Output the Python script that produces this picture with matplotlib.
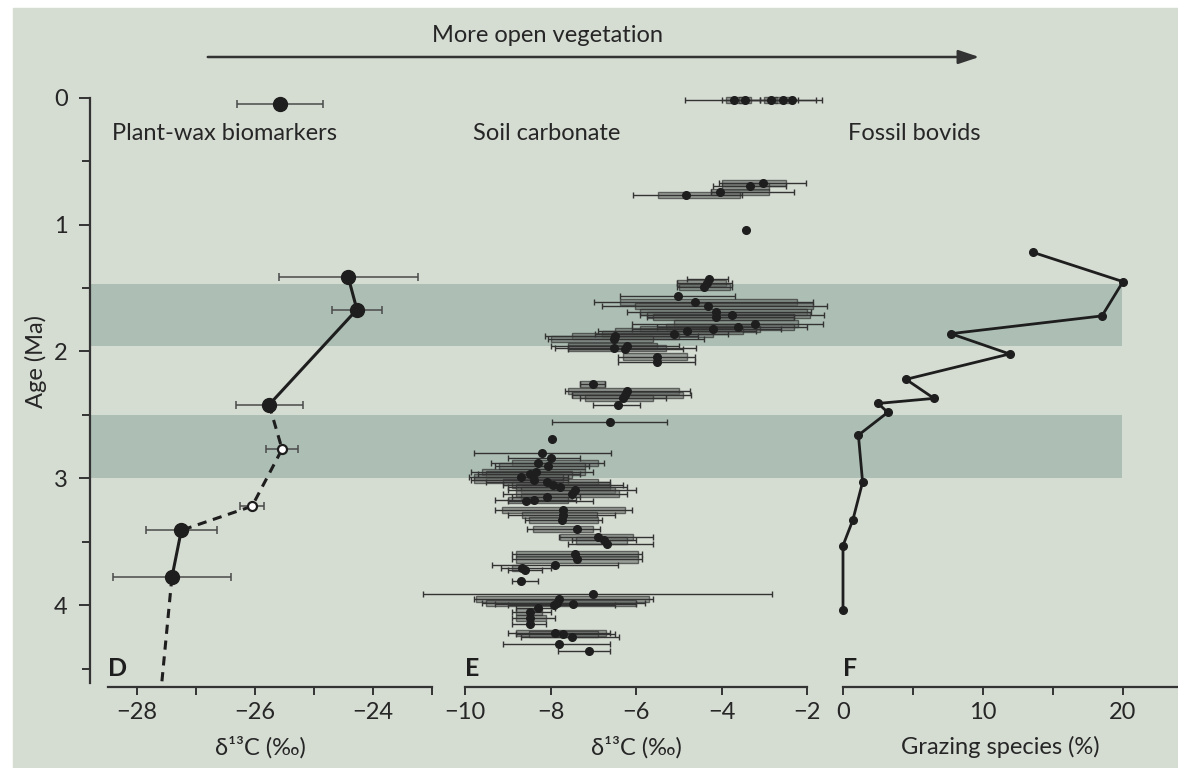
import numpy as np
import matplotlib
matplotlib.use("Agg")
import matplotlib.pyplot as plt
from matplotlib.patches import Rectangle, FancyArrowPatch
from matplotlib.ticker import FixedLocator, NullFormatter

plt.rcParams['font.family'] = ['Lato', 'DejaVu Sans']

# ---------------- data ----------------
# Panel D: plant-wax biomarkers
wax_age = [0.05, 1.41, 1.67, 2.42, 2.77, 3.22, 3.41, 3.78]
wax_d13c = [-25.58, -24.42, -24.27, -25.76, -25.54, -26.05, -27.25, -27.41]
wax_err = [0.73, 1.18, 0.42, 0.57, 0.27, 0.21, 0.60, 1.00]
wax_open = [False, False, False, False, True, True, False, False]
wax_solid_segments = [[1, 2, 3], [6, 7]]
wax_dashed_segments = [[3, 4, 5, 6]]
wax_tail_age = [3.78, 4.70]
wax_tail_d13c = [-27.41, -27.60]

# Panel E: soil carbonate (age, mean, whisker lo/hi, box lo/hi)
soil_age = [0.02, 0.02, 0.02, 0.02, 0.02,
            0.67, 0.70, 0.74, 0.77, 1.04,
            1.43, 1.46, 1.49, 1.56, 1.61, 1.64, 1.69, 1.71, 1.73, 1.78, 1.81, 1.82,
            1.84, 1.86, 1.88, 1.90, 1.96, 1.97, 1.98, 2.04, 2.08,
            2.26, 2.31, 2.34, 2.37, 2.42, 2.56, 2.69,
            2.80, 2.84, 2.88, 2.90, 2.95, 2.97, 2.99, 3.01, 3.03, 3.05, 3.07, 3.09,
            3.12, 3.15, 3.17, 3.18, 3.25, 3.29, 3.33, 3.40, 3.46, 3.49, 3.52,
            3.60, 3.64, 3.68, 3.71, 3.72, 3.81, 3.91, 3.95, 3.98, 3.99, 4.00,
            4.02, 4.05, 4.10, 4.15, 4.22, 4.23, 4.25, 4.31, 4.36]
soil_d13c = [-3.70, -3.45, -2.85, -2.55, -2.35,
             -3.03, -3.33, -4.03, -4.83, -3.43,
             -4.30, -4.35, -4.41, -5.02, -4.62, -4.32, -4.13, -3.75, -4.13, -3.22, -3.61, -4.20,
             -4.81, -5.11, -6.49, -6.51, -6.20, -6.51, -6.26, -5.51, -5.51,
             -7.00, -6.21, -6.26, -6.30, -6.42, -6.61, -7.96,
             -8.20, -7.99, -8.29, -8.06, -8.34, -8.48, -8.69, -8.39, -8.08, -7.94, -7.78, -7.43,
             -7.50, -8.08, -8.39, -8.57, -7.71, -7.71, -7.73, -7.38, -6.89, -6.75, -6.68,
             -7.43, -7.38, -7.89, -8.67, -8.60, -8.69, -7.00, -7.80, -7.85, -7.47, -7.92,
             -8.29, -8.48, -8.48, -8.48, -7.89, -7.71, -7.50, -7.80, -7.10]
soil_wlo = [-4.85, -4.00, -3.40, -3.10, -2.90,
            -4.05, -4.20, -4.25, -6.07, np.nan,
            -4.81, -5.04, -5.04, -6.37, -6.98, -6.80, -6.20, -5.90, -5.74, -6.09, -5.50, -6.09,
            -6.90, -6.96, -8.13, -8.06, -8.00, -7.90, -7.60, -6.42, -6.42,
            -7.31, -7.66, -7.50, -7.30, -7.00, -7.96, np.nan,
            -9.79, -9.00, -9.40, -9.30, -9.85, -9.70, -9.90, -9.85, -9.50, -9.10, -9.00, -9.00,
            -9.10, -8.90, -9.30, -9.00, -9.30, -9.00, -8.60, -8.55, -7.80, -7.50, -7.60,
            -8.90, -8.90, -9.37, -9.15, -9.00, -8.90, -10.98, -9.80, -9.60, -9.30, -9.00,
            -8.80, -8.90, -8.90, -8.90, -9.00, -8.80, -8.70, -9.10, -7.83]
soil_whi = [-3.10, -2.90, -2.20, -1.65, -1.80,
            -2.02, -2.50, -2.30, -3.52, np.nan,
            -3.85, -3.75, -3.75, -3.68, -1.86, -1.53, -1.90, -1.60, -2.30, -1.63, -2.00, -2.60,
            -3.20, -3.85, -4.55, -4.40, -5.00, -4.60, -4.90, -4.62, -4.62,
            -6.73, -4.74, -4.71, -5.30, -5.90, -5.27, np.nan,
            -6.58, -7.30, -6.75, -7.10, -7.00, -7.30, -7.60, -7.60, -6.60, -6.30, -6.20, -6.00,
            -6.20, -7.30, -7.40, -7.00, -6.10, -6.50, -6.80, -6.84, -5.60, -6.00, -5.60,
            -5.85, -5.85, -6.42, -8.00, -8.20, -8.30, -2.81, -5.60, -5.80, -6.00, -6.50,
            -7.90, -8.00, -7.90, -8.10, -6.60, -6.50, -6.40, -6.60, -6.60]
soil_blo = [-3.90, -3.60, -3.00, -2.75, np.nan,
            -4.00, -4.00, -4.25, -5.49, np.nan,
            np.nan, -5.04, -5.00, np.nan, -6.37, -6.02, -5.90, -5.74, -5.60, -5.10, -5.30, -5.90,
            -6.50, -6.80, -7.50, -8.00, -7.60, -7.60, np.nan, -6.30, np.nan,
            -7.31, -7.60, -7.50, -7.20, np.nan, np.nan, np.nan,
            np.nan, np.nan, -8.90, -9.20, -9.60, -9.50, -9.80, -9.80, -9.10, -8.90, -8.80, -8.70,
            -8.80, -8.70, -9.00, np.nan, -9.13, -8.67, -8.50, -8.41, -7.78, -7.40, np.nan,
            -8.80, -8.80, np.nan, -8.90, np.nan, np.nan, np.nan, -9.75, -9.50, np.nan, np.nan,
            np.nan, -8.80, -8.80, np.nan, -8.80, -8.50, np.nan, np.nan, np.nan]
soil_bhi = [-3.50, -3.30, -2.70, -2.30, np.nan,
            -2.50, -2.90, -2.90, -3.57, np.nan,
            np.nan, -3.90, -3.80, np.nan, -2.23, -1.86, -2.00, -1.93, -2.30, -2.20, -2.30, -3.10,
            -3.50, -4.20, -5.00, -5.60, -5.50, -5.30, np.nan, -4.80, np.nan,
            -6.73, -5.00, -4.90, -5.60, np.nan, np.nan, np.nan,
            np.nan, np.nan, -6.90, -7.20, -7.20, -7.50, -7.70, -7.70, -6.90, -6.60, -6.60, -6.50,
            -6.40, -7.50, -7.60, np.nan, -6.26, -6.91, -6.90, -7.00, -6.07, -6.20, np.nan,
            -5.95, -5.95, np.nan, -8.60, np.nan, np.nan, np.nan, -5.70, -6.00, np.nan, np.nan,
            np.nan, -8.20, -8.10, np.nan, -6.70, -6.90, np.nan, np.nan, np.nan]

# Panel F: fossil bovids
bov_age = [1.22, 1.45, 1.72, 1.86, 2.02, 2.22, 2.37, 2.41, 2.48, 2.66, 3.03, 3.33, 3.53, 4.04]
bov_pct = [13.6, 20.0, 18.5, 7.7, 11.9, 4.5, 6.5, 2.5, 3.2, 1.1, 1.4, 0.7, 0.0, 0.0]

# shaded intervals (Ma)
band_start = [1.47, 2.50]
band_end = [1.96, 3.00]

# ticks
age_major = [0, 1, 2, 3, 4]
age_minor = [0.5, 1.5, 2.5, 3.5, 4.5]
d_ticks = [-28, -27, -26, -25, -24, -23]
d_labels = ['\u221228', '', '\u221226', '', '\u221224', '']
e_ticks = [-10, -8, -6, -4, -2]
e_labels = ['\u221210', '\u22128', '\u22126', '\u22124', '\u22122']
f_ticks = [0, 5, 10, 15, 20]
f_labels = ['0', '', '10', '', '20']

# ---------------- style ----------------
W, H = 1178, 768
BG = '#d5dcd2'
BAND = '#adbfb5'
INK = '#1e1e1e'
TXT = '#262626'
FS = 17
LABEL_Y = -0.082


def rect(x0, x1, ytop, ybot):
    return [x0 / W, 1 - ybot / H, (x1 - x0) / W, (ybot - ytop) / H]


YLIM = (4.645, -0.1)

fig = plt.figure(figsize=(W / 100, H / 100), dpi=100, facecolor='white')
fig.patches.append(Rectangle((13 / W, 0), 1 - 13 / W, 1 - 8 / H,
                             transform=fig.transFigure, color=BG, zorder=-10))

# background band axes
axb = fig.add_axes(rect(90, 1122, 85, 687))
axb.set_ylim(*YLIM)
axb.set_xlim(0, 1)
for s, e in zip(band_start, band_end):
    axb.axhspan(s, e, color=BAND, lw=0)
axb.axis('off')
axb.patch.set_alpha(0)


def style_axes(ax, xlim, xbounds, xticks, xlabels, xlabel, xlabel_x):
    ax.set_ylim(*YLIM)
    ax.set_xlim(*xlim)
    ax.patch.set_alpha(0)
    for sp in ['top', 'right', 'left']:
        ax.spines[sp].set_visible(False)
    ax.spines['bottom'].set_bounds(*xbounds)
    ax.spines['bottom'].set_linewidth(1.6)
    ax.spines['bottom'].set_color('#333333')
    ax.set_xticks(xticks)
    ax.set_xticklabels(xlabels)
    ax.tick_params(axis='x', direction='out', length=6, width=1.4, color='#333333',
                   labelsize=FS, labelcolor=TXT, pad=5)
    ax.set_yticks([])
    ax.set_xlabel(xlabel, fontsize=FS, color=TXT)
    ax.xaxis.set_label_coords(xlabel_x, LABEL_Y)


# Panel D
axD = fig.add_axes(rect(90, 440, 85, 687))
style_axes(axD, (-28.8, -22.86), (-28.5, -23), d_ticks, d_labels,
           '\u03b4\u00b9\u00b3C (\u2030)', (260 - 90) / 350)
axD.spines['left'].set_visible(True)
axD.spines['left'].set_bounds(0, 4.61)
axD.spines['left'].set_linewidth(1.6)
axD.spines['left'].set_color('#333333')
axD.yaxis.set_major_locator(FixedLocator(age_major))
axD.yaxis.set_minor_locator(FixedLocator(age_minor))
axD.yaxis.set_minor_formatter(NullFormatter())
axD.set_yticklabels([str(a) for a in age_major])
axD.tick_params(axis='y', which='major', direction='out', length=8, width=1.4,
                color='#333333', labelsize=FS, labelcolor=TXT, pad=8)
axD.tick_params(axis='y', which='minor', direction='out', length=6, width=1.4,
                color='#333333')
axD.set_ylabel('Age (Ma)', fontsize=FS, color=TXT)
axD.yaxis.set_label_coords(-(90 - 47) / 350, (687 - 362) / 602)

wx = np.array(wax_d13c)
wy = np.array(wax_age)
for seg in wax_solid_segments:
    axD.plot(wx[seg], wy[seg], color=INK, lw=2.2, zorder=3)
for seg in wax_dashed_segments:
    axD.plot(wx[seg], wy[seg], color=INK, lw=2.2, ls=(0, (3, 2.2)), zorder=3)
axD.plot(wax_tail_d13c, wax_tail_age, color=INK, lw=2.2, ls=(0, (3, 2.2)), zorder=3)
axD.errorbar(wx, wy, xerr=wax_err, fmt='none', ecolor='#4a4a4a', elinewidth=1.1,
             capsize=3, capthick=1.1, zorder=2)
op = np.array(wax_open)
axD.plot(wx[~op], wy[~op], 'o', ms=10, color=INK, zorder=4)
axD.plot(wx[op], wy[op], 'o', ms=6.5, mfc='white', mec=INK, mew=1.6, zorder=4)

axD.text(-28.42, 0.28, 'Plant-wax biomarkers', fontsize=FS, color=TXT,
         va='center', ha='left')
axD.text(-28.5, 4.5, 'D', fontsize=FS + 1, fontweight='bold', color=INK,
         va='center', ha='left')

# Panel E
axE = fig.add_axes(rect(420, 830, 85, 687))
style_axes(axE, (-11.053, -1.462), (-10, -2), e_ticks, e_labels,
           '\u03b4\u00b9\u00b3C (\u2030)', (636 - 420) / 410)
sa = np.array(soil_age)
sd = np.array(soil_d13c)
wlo = np.array(soil_wlo)
whi = np.array(soil_whi)
blo = np.array(soil_blo)
bhi = np.array(soil_bhi)
mb = ~np.isnan(blo)
axE.barh(sa[mb], bhi[mb] - blo[mb], left=blo[mb], height=0.048,
         color='#6f7470', alpha=0.6, edgecolor='#222222', linewidth=1.0, zorder=2)
mw = ~np.isnan(wlo)
axE.errorbar(sd[mw], sa[mw], xerr=[sd[mw] - wlo[mw], whi[mw] - sd[mw]], fmt='none',
             ecolor='#333333', elinewidth=1.0, capsize=2.5, capthick=1.0, zorder=3)
axE.plot(sd, sa, 'o', ms=5.5, color=INK, zorder=4)
axE.text(-9.81, 0.28, 'Soil carbonate', fontsize=FS, color=TXT, va='center', ha='left')
axE.text(-10.0, 4.5, 'E', fontsize=FS + 1, fontweight='bold', color=INK,
         va='center', ha='left')

# Panel F
axF = fig.add_axes(rect(836, 1178, 85, 687))
style_axes(axF, (-0.5, 23.93), (0, 23.93), f_ticks, f_labels,
           'Grazing species (%)', (1000 - 836) / 342)
axF.plot(bov_pct, bov_age, '-o', color=INK, lw=2.0, ms=5.5, zorder=4)
axF.text(0.36, 0.28, 'Fossil bovids', fontsize=FS, color=TXT, va='center', ha='left')
axF.text(0.0, 4.5, 'F', fontsize=FS + 1, fontweight='bold', color=INK,
         va='center', ha='left')

# Top arrow
arrow = FancyArrowPatch((205 / W, 1 - 57 / H), (982 / W, 1 - 57 / H),
                        transform=fig.transFigure,
                        arrowstyle='-|>,head_length=0.9,head_width=0.3',
                        mutation_scale=14, color='#333333', lw=1.8)
fig.add_artist(arrow)
fig.text(547 / W, 1 - 36 / H, 'More open vegetation', fontsize=FS, color=TXT,
         ha='center', va='center')

fig.savefig('out.png', dpi=100, facecolor='white')
